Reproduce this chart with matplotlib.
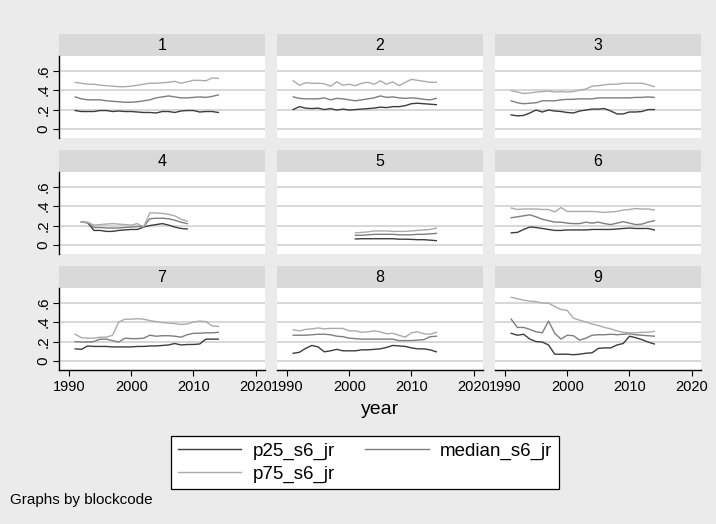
import matplotlib
matplotlib.use("Agg")
import matplotlib.pyplot as plt

plt.rcParams['font.family'] = ['Liberation Sans', 'DejaVu Sans']

# ---------------- data ----------------
years_full = list(range(1991, 2015))
years_4 = list(range(1992, 2010))
years_5 = list(range(2001, 2015))

p25_1 = [0.19,0.18,0.18,0.18,0.19,0.19,0.18,0.185,0.18,0.18,0.175,0.17,0.17,0.165,0.18,0.18,0.17,0.185,0.19,0.19,0.175,0.18,0.18,0.17]
med_1 = [0.33,0.31,0.30,0.30,0.30,0.29,0.285,0.28,0.275,0.275,0.28,0.29,0.30,0.32,0.33,0.34,0.33,0.32,0.32,0.325,0.33,0.325,0.335,0.35]
p75_1 = [0.48,0.47,0.46,0.46,0.45,0.445,0.44,0.435,0.435,0.44,0.45,0.46,0.47,0.47,0.475,0.48,0.49,0.47,0.485,0.50,0.50,0.495,0.525,0.52]

p25_2 = [0.20,0.23,0.215,0.21,0.215,0.20,0.21,0.195,0.205,0.195,0.20,0.205,0.21,0.215,0.225,0.22,0.23,0.23,0.24,0.26,0.265,0.26,0.255,0.25]
med_2 = [0.33,0.315,0.31,0.31,0.31,0.32,0.30,0.315,0.31,0.30,0.29,0.30,0.31,0.32,0.34,0.325,0.33,0.32,0.315,0.32,0.315,0.305,0.30,0.315]
p75_2 = [0.495,0.45,0.475,0.47,0.47,0.465,0.44,0.485,0.45,0.46,0.445,0.47,0.48,0.46,0.495,0.46,0.485,0.445,0.48,0.51,0.50,0.49,0.48,0.48]

p25_3 = [0.145,0.135,0.14,0.165,0.195,0.175,0.195,0.185,0.18,0.17,0.165,0.185,0.195,0.205,0.205,0.21,0.185,0.155,0.155,0.175,0.175,0.18,0.20,0.20]
med_3 = [0.29,0.27,0.26,0.265,0.27,0.29,0.29,0.29,0.30,0.305,0.305,0.31,0.31,0.31,0.32,0.32,0.32,0.32,0.32,0.32,0.325,0.325,0.33,0.325]
p75_3 = [0.395,0.38,0.365,0.37,0.38,0.385,0.39,0.38,0.385,0.38,0.385,0.40,0.41,0.44,0.445,0.455,0.46,0.46,0.47,0.47,0.47,0.47,0.455,0.435]

p25_4 = [0.235,0.23,0.15,0.15,0.14,0.14,0.15,0.155,0.16,0.16,0.185,0.20,0.21,0.22,0.205,0.185,0.17,0.165]
med_4 = [0.235,0.23,0.18,0.18,0.175,0.175,0.175,0.18,0.185,0.19,0.19,0.27,0.275,0.275,0.27,0.255,0.235,0.22]
p75_4 = [0.235,0.235,0.205,0.21,0.215,0.22,0.215,0.21,0.205,0.22,0.185,0.33,0.33,0.325,0.315,0.30,0.265,0.245]

p25_5 = [0.062,0.065,0.065,0.065,0.065,0.065,0.065,0.06,0.06,0.058,0.055,0.055,0.05,0.045]
med_5 = [0.10,0.10,0.105,0.11,0.11,0.11,0.11,0.105,0.105,0.105,0.11,0.11,0.115,0.12]
p75_5 = [0.125,0.13,0.135,0.145,0.145,0.145,0.14,0.14,0.14,0.145,0.15,0.155,0.16,0.175]

p25_6 = [0.125,0.13,0.16,0.185,0.18,0.17,0.16,0.15,0.15,0.155,0.155,0.155,0.155,0.16,0.16,0.16,0.16,0.165,0.17,0.175,0.17,0.17,0.17,0.155]
med_6 = [0.28,0.29,0.30,0.31,0.29,0.265,0.25,0.235,0.235,0.225,0.22,0.22,0.235,0.225,0.235,0.22,0.21,0.225,0.24,0.225,0.21,0.215,0.235,0.25]
p75_6 = [0.38,0.365,0.37,0.37,0.37,0.365,0.365,0.34,0.385,0.345,0.345,0.345,0.345,0.345,0.34,0.335,0.34,0.345,0.36,0.365,0.375,0.37,0.37,0.36]

p25_7 = [0.125,0.12,0.155,0.15,0.15,0.15,0.145,0.145,0.145,0.145,0.15,0.15,0.155,0.155,0.16,0.165,0.18,0.165,0.17,0.17,0.175,0.225,0.225,0.225]
med_7 = [0.20,0.195,0.195,0.20,0.225,0.225,0.21,0.195,0.235,0.23,0.23,0.235,0.265,0.255,0.26,0.26,0.255,0.245,0.27,0.285,0.285,0.29,0.29,0.295]
p75_7 = [0.275,0.24,0.235,0.235,0.245,0.245,0.265,0.40,0.43,0.43,0.435,0.43,0.415,0.405,0.395,0.39,0.385,0.375,0.38,0.40,0.41,0.405,0.36,0.355]

p25_8 = [0.08,0.09,0.13,0.16,0.145,0.095,0.105,0.12,0.105,0.105,0.105,0.115,0.115,0.12,0.125,0.14,0.16,0.155,0.15,0.135,0.125,0.125,0.115,0.095]
med_8 = [0.265,0.265,0.265,0.27,0.275,0.275,0.27,0.255,0.25,0.235,0.23,0.225,0.225,0.225,0.225,0.225,0.225,0.21,0.21,0.21,0.215,0.22,0.25,0.255]
p75_8 = [0.32,0.31,0.325,0.33,0.34,0.33,0.335,0.335,0.335,0.31,0.31,0.295,0.30,0.31,0.30,0.28,0.285,0.265,0.245,0.29,0.30,0.28,0.275,0.295]

p25_9 = [0.285,0.265,0.275,0.225,0.20,0.195,0.165,0.07,0.07,0.07,0.065,0.07,0.08,0.085,0.13,0.135,0.135,0.165,0.18,0.255,0.24,0.22,0.195,0.175]
med_9 = [0.43,0.345,0.345,0.325,0.30,0.29,0.41,0.285,0.225,0.265,0.26,0.215,0.235,0.265,0.27,0.27,0.275,0.27,0.275,0.28,0.27,0.265,0.26,0.255]
p75_9 = [0.655,0.64,0.625,0.615,0.61,0.595,0.595,0.56,0.53,0.52,0.44,0.42,0.40,0.38,0.365,0.345,0.33,0.31,0.295,0.29,0.29,0.295,0.295,0.305]

panel_labels = ["1", "2", "3", "4", "5", "6", "7", "8", "9"]
series_names = ["p25_s6_jr", "median_s6_jr", "p75_s6_jr"]
x_ticks = [1990, 2000, 2010, 2020]
y_ticks = [0, 0.2, 0.4, 0.6]
y_tick_labels = ["0", ".2", ".4", ".6"]

panels = [
    (years_full, p25_1, med_1, p75_1),
    (years_full, p25_2, med_2, p75_2),
    (years_full, p25_3, med_3, p75_3),
    (years_4, p25_4, med_4, p75_4),
    (years_5, p25_5, med_5, p75_5),
    (years_full, p25_6, med_6, p75_6),
    (years_full, p25_7, med_7, p75_7),
    (years_full, p25_8, med_8, p75_8),
    (years_full, p25_9, med_9, p75_9),
]

# ---------------- layout ----------------
W, H = 716, 524
BG = '#EBEBEB'
HEAD = '#D9D9D9'
GRID = '#CDCDCD'
colors = ['#3D3D3D', '#7E7E7E', '#ABABAB']

fig = plt.figure(figsize=(W / 100, H / 100), dpi=100, facecolor=BG)

def rect(x0, y0, x1, y1):
    return [x0 / W, 1 - y1 / H, (x1 - x0) / W, (y1 - y0) / H]

cols = [(59, 265), (277, 483), (495, 701)]
rows_plot = [(56, 138), (172, 254), (288, 370)]
rows_head = [(34, 56), (150, 172), (266, 288)]

handles = None
for i, (yrs, a, b, c) in enumerate(panels):
    r, cidx = divmod(i, 3)
    x0, x1 = cols[cidx]
    hax = fig.add_axes(rect(x0, rows_head[r][0], x1, rows_head[r][1]))
    hax.set_facecolor(HEAD)
    hax.set_xticks([]); hax.set_yticks([])
    for s in hax.spines.values():
        s.set_visible(False)
    hax.text(0.5, 0.5, panel_labels[i], ha='center', va='center', fontsize=11.5, transform=hax.transAxes)

    ax = fig.add_axes(rect(x0, rows_plot[r][0], x1, rows_plot[r][1]))
    ax.set_facecolor('white')
    ax.set_xlim(1988.4, 2021.5)
    ax.set_ylim(-0.092, 0.75)
    for yv in y_ticks:
        ax.axhline(yv, color=GRID, lw=1.1, zorder=1)
    l1, = ax.plot(yrs, a, color=colors[0], lw=1.0, zorder=3)
    l2, = ax.plot(yrs, b, color=colors[1], lw=1.0, zorder=3)
    l3, = ax.plot(yrs, c, color=colors[2], lw=1.0, zorder=3)
    handles = [l1, l2, l3]
    for s in ax.spines.values():
        s.set_visible(False)
    ax.set_yticks(y_ticks)
    ax.set_xticks(x_ticks)
    if cidx == 0:
        ax.spines['left'].set_visible(True)
        ax.spines['left'].set_color('black')
        ax.spines['left'].set_linewidth(1.0)
        ax.set_yticklabels(y_tick_labels, rotation=90, va='center', fontsize=11)
        ax.tick_params(axis='y', length=4, width=0.8, pad=2)
    else:
        ax.tick_params(axis='y', length=0, labelleft=False)
    if r == 2:
        ax.spines['bottom'].set_visible(True)
        ax.spines['bottom'].set_color('black')
        ax.spines['bottom'].set_linewidth(1.0)
        ax.set_xticklabels([str(t) for t in x_ticks], fontsize=10.5)
        ax.tick_params(axis='x', length=4, width=0.8, pad=3)
    else:
        ax.tick_params(axis='x', length=0, labelbottom=False)

fig.text((59 + 701) / 2 / W, 1 - 409 / H, 'year', ha='center', va='center', fontsize=14)

leg = fig.legend([handles[0], handles[2], handles[1]],
                 [series_names[0], series_names[2], series_names[1]],
                 ncol=2, loc='center',
                 bbox_to_anchor=((169 + 561) / 2 / W, 1 - (439 + 486) / 2 / H),
                 fontsize=13.5, frameon=True, fancybox=False, framealpha=1,
                 edgecolor='black', handlelength=3.4, handletextpad=0.6,
                 columnspacing=1.6, labelspacing=0.3, borderpad=0.35)
leg.get_frame().set_linewidth(0.9)

fig.text(10 / W, 1 - 500 / H, 'Graphs by blockcode', ha='left', va='center', fontsize=11)

fig.savefig('out.png', dpi=100, facecolor=BG)
